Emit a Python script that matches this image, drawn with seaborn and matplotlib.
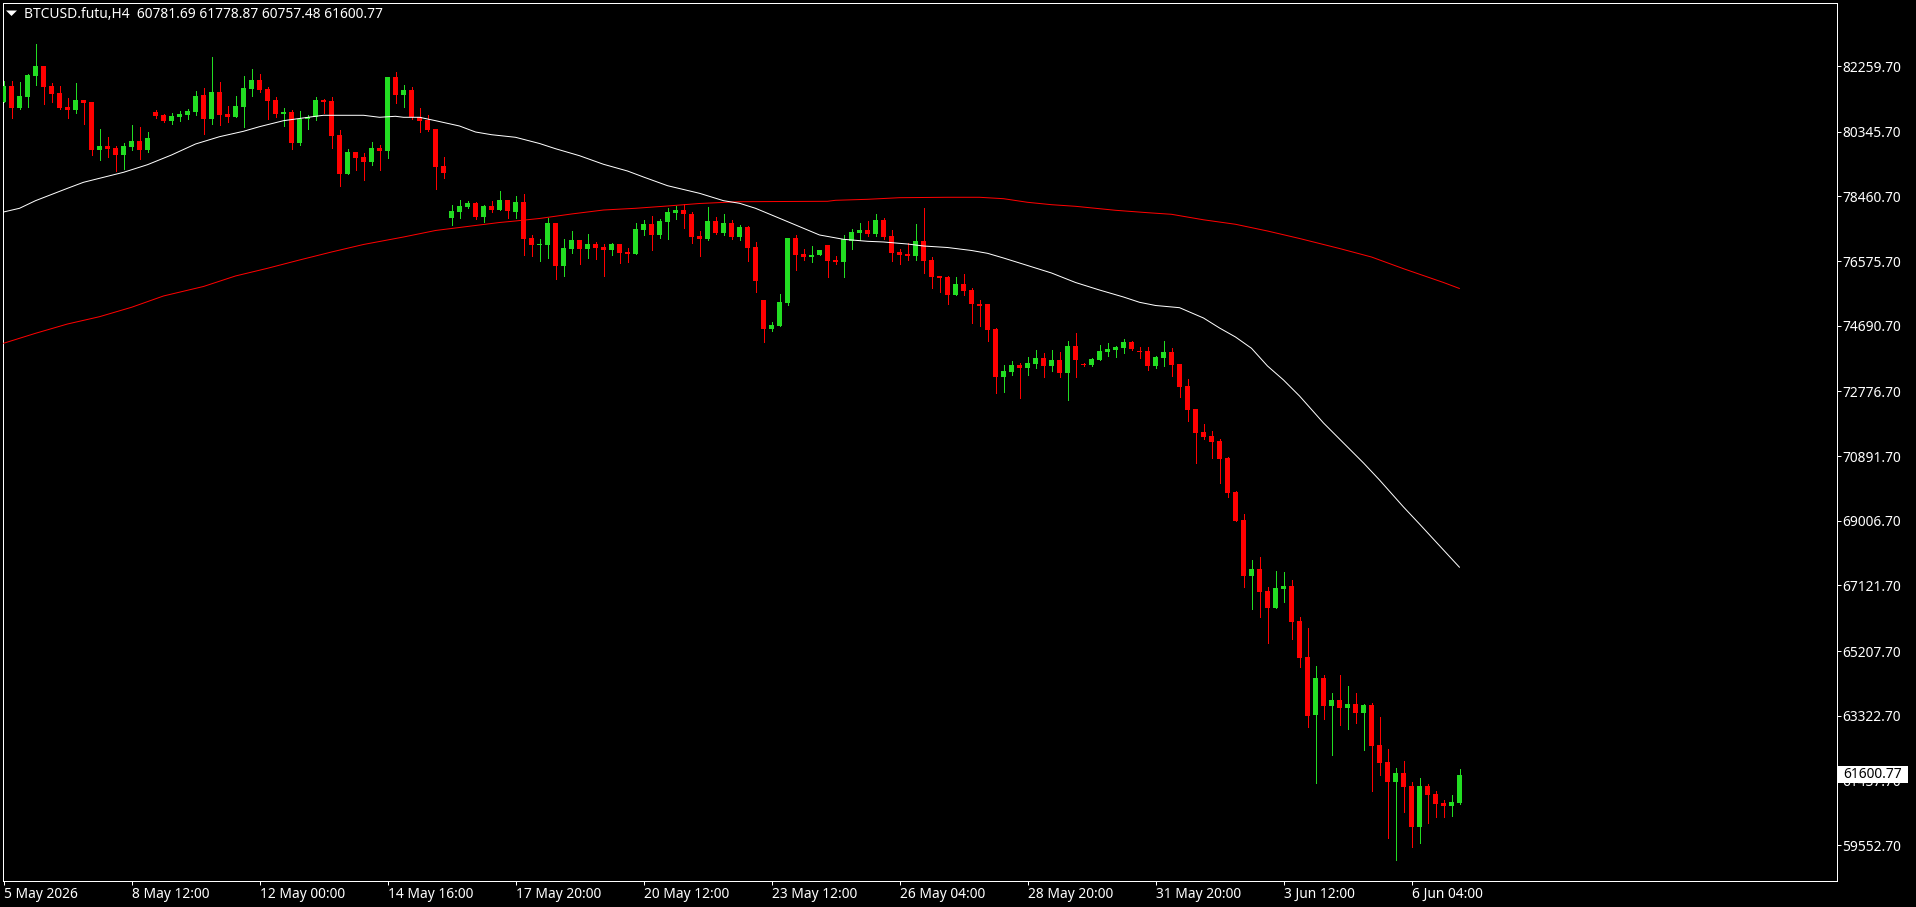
import matplotlib
matplotlib.use("Agg")
import matplotlib.pyplot as plt
from matplotlib.patches import Polygon, Rectangle
import numpy as np
import seaborn as sns

W, H = 1916, 907

# --------------------------------------------------
# CANDLES (H4)
# --------------------------------------------------

opens = [
    81221, 81678, 81037, 81357, 81970, 82261, 81678, 81474, 81066, 80978,
    81270, 81212, 79812, 79929, 79871, 79667, 79900, 80075, 79812, 80920,
    80833, 80658, 80774, 80833, 80920, 81416, 80716, 81503, 80862, 80774,
    81066, 81591, 81853, 81591, 81270, 80862, 80920, 80016, 80716, 80774,
    81270, 81241, 80250, 79113, 79754, 79608, 79462, 79871, 79783, 81940,
    81416, 81561, 80774, 80687, 80425, 79346, 77830, 78005, 78151, 78267,
    77860, 78181, 78064, 78355, 78006, 78297, 77248, 77044, 77044, 77685,
    76432, 76927, 77189, 76927, 77073, 76985, 76898, 77073, 76840, 76781,
    77481, 77656, 77335, 77714, 77977, 78064, 77947, 77306, 77219, 77743,
    77393, 77685, 77277, 77568, 76985, 75440, 74595, 74682, 75353, 77248,
    76781, 76694, 76752, 77044, 76606, 76548, 77160, 77393, 77481, 77364,
    77772, 77306, 76840, 76781, 76723, 77160, 76606, 76140, 76111, 75586,
    75906, 75732, 75324, 75324, 74595, 73196, 73342, 73546, 73458, 73575,
    73750, 73517, 73691, 73312, 74100, 73575, 73546, 73691, 73925, 73983,
    74041, 74216, 73954, 73954, 73517, 73750, 73925, 73575, 72933, 72263,
    71592, 71476, 71330, 70835, 69844, 69027, 67395, 67599, 66957, 66462,
    67016, 67103, 66083, 65033, 63343, 64421, 63605, 63780, 63547, 63663,
    63401, 63634, 62468, 61972, 61390, 61652, 61273, 60078, 61273, 61040,
    60777, 60690, 60781.69,
]
closes = [
    81678, 81046, 81387, 81999, 82261, 81649, 81445, 81037, 80978, 81270,
    81182, 79812, 79929, 79842, 79667, 79929, 80075, 79812, 80162, 80803,
    80658, 80803, 80862, 80949, 81387, 80716, 81503, 80833, 80774, 81095,
    81620, 81853, 81561, 81241, 80862, 80920, 80016, 80716, 80774, 81270,
    81212, 80220, 79113, 79754, 79579, 79462, 79871, 79783, 81940, 81416,
    81561, 80774, 80658, 80395, 79317, 79142, 78034, 78180, 78267, 77859,
    78181, 78064, 78355, 78035, 78297, 77219, 77044, 77073, 77685, 76432,
    76956, 77189, 76927, 77073, 76956, 76898, 77073, 76810, 76781, 77510,
    77656, 77335, 77743, 78006, 78064, 77947, 77277, 77219, 77743, 77393,
    77685, 77277, 77568, 76956, 75994, 74595, 74712, 75382, 77248, 76752,
    76694, 76752, 76898, 76577, 76548, 77219, 77423, 77481, 77364, 77772,
    77277, 76810, 76752, 76723, 77160, 76577, 76111, 76082, 75586, 75906,
    75703, 75324, 75266, 74566, 73196, 73371, 73546, 73458, 73604, 73750,
    73517, 73691, 73312, 74100, 73691, 73546, 73721, 73954, 74012, 74070,
    74216, 74012, 73934, 73517, 73779, 73925, 73546, 72904, 72234, 71563,
    71447, 71301, 70805, 69814, 68998, 67395, 67599, 66928, 66462, 67045,
    67103, 66054, 65004, 63313, 64421, 63605, 63780, 63547, 63663, 63401,
    63634, 62439, 61943, 61390, 61652, 61244, 60078, 61273, 61011, 60748,
    60690, 60807, 61600.77,
]
highs = [
    81824, 81824, 81795, 82028, 82902, 82261, 81765, 81678, 81328, 81765,
    81270, 81212, 80425, 80191, 79929, 80016, 80541, 80483, 80337, 80978,
    80862, 80891, 80949, 81008, 81532, 81620, 82523, 81795, 81095, 81387,
    81970, 82174, 82028, 81649, 81357, 81037, 80978, 80949, 80833, 81357,
    81299, 81357, 80395, 79842, 79754, 79725, 80046, 79958, 81940, 82086,
    81707, 81649, 81037, 80833, 80425, 79608, 78209, 78355, 78326, 78296,
    78210, 78326, 78618, 78355, 78472, 78530, 77335, 77219, 77831, 77685,
    77219, 77452, 77189, 77364, 77131, 77073, 77102, 77073, 76956, 77685,
    77772, 77889, 77802, 78122, 78181, 78239, 78006, 77452, 78151, 77860,
    77947, 77772, 77627, 77598, 77131, 75440, 74799, 75615, 77248, 77335,
    76927, 77015, 76898, 77044, 76723, 77335, 77510, 77685, 77743, 77947,
    77831, 77481, 76927, 77102, 77656, 78122, 76694, 76140, 76140, 76110,
    76198, 75790, 75440, 75324, 74624, 73546, 73662, 73604, 73779, 73983,
    73895, 73983, 73925, 74245, 74478, 73604, 73750, 74129, 74187, 74100,
    74304, 74245, 74070, 74070, 73808, 74245, 74041, 73575, 73138, 72263,
    71826, 71622, 71388, 70864, 69873, 69202, 67861, 67949, 67074, 67540,
    67511, 67278, 66199, 65879, 64771, 64509, 63984, 64509, 64188, 63984,
    63663, 63692, 63284, 62351, 61798, 62002, 61390, 61506, 61331, 61127,
    60865, 61011, 61778.87,
]
lows = [
    81221, 80755, 81008, 81076, 81707, 81163, 81221, 81008, 80755, 80901,
    80580, 79667, 79531, 79608, 79200, 79258, 79822, 79550, 79754, 80745,
    80629, 80570, 80667, 80716, 80833, 80279, 80570, 80541, 80629, 80774,
    80483, 81387, 81503, 80716, 80774, 80512, 79842, 79958, 80425, 80687,
    80891, 79871, 78763, 79113, 79229, 78938, 79375, 79229, 79579, 81182,
    81066, 80716, 80337, 80366, 78675, 78996, 77626, 77830, 78122, 77801,
    77714, 78006, 78064, 77831, 77831, 76752, 76723, 76577, 76665, 76053,
    76140, 76810, 76490, 76665, 76636, 76140, 76752, 76519, 76548, 76781,
    77335, 76898, 77248, 77219, 77802, 77539, 77102, 76723, 77189, 77364,
    77335, 77219, 77189, 76577, 75674, 74216, 74537, 74682, 75295, 76315,
    76606, 76548, 76752, 76111, 76490, 76111, 76927, 77189, 77306, 77306,
    77219, 76577, 76490, 76606, 76606, 76227, 75790, 75674, 75324, 75586,
    75586, 74770, 74683, 74245, 72729, 72759, 73254, 72584, 73254, 73458,
    73196, 73371, 73196, 72525, 73196, 73517, 73517, 73691, 73808, 73779,
    73895, 73983, 73750, 73400, 73458, 73517, 73225, 72613, 71913, 70689,
    71388, 70835, 70106, 69698, 68998, 67074, 66433, 66199, 65441, 66462,
    66637, 65558, 64742, 62993, 61360, 63226, 62177, 63051, 62934, 63109,
    62322, 61127, 61594, 59757, 59116, 60515, 59495, 59611, 60194, 60369,
    60369, 60398, 60757.48,
]

# --------------------------------------------------
# MOVING AVERAGES, SAMPLED ALONG THE BARS
# --------------------------------------------------

ma_fast_bars = [
    0, 2, 4, 8, 10, 15, 18, 21, 24, 27, 30, 32, 35, 39, 40, 45, 47, 49, 50, 52,
    54, 57, 59, 61, 64, 67, 69, 72, 75, 78, 80, 83, 87, 90, 92, 94, 97, 100,
    102, 105, 108, 110, 113, 115, 118, 121, 123, 125, 128, 131, 134, 137, 140,
    142, 144, 147, 150, 152, 154, 156, 158, 160, 162, 165, 167, 170, 172, 175,
    177, 180, 182,
]
ma_fast = [
    78005, 78113, 78335, 78696, 78871, 79162, 79384, 79667, 79987, 80200, 80358,
    80492, 80667, 80795, 80824, 80824, 80766, 80795, 80766, 80766, 80667, 80512,
    80337, 80258, 80183, 80002, 79850, 79646, 79396, 79200, 79025, 78772, 78550,
    78335, 78259, 78113, 77822, 77530, 77335, 77209, 77151, 77131, 77072, 77014,
    76970, 76883, 76801, 76664, 76446, 76227, 75950, 75731, 75527, 75373, 75280,
    75216, 74915, 74624, 74361, 74032, 73516, 73108, 72642, 71855, 71388, 70689,
    70193, 69406, 68910, 68152, 67648,
]
ma_slow_bars = [
    0, 4, 8, 12, 16, 20, 25, 29, 33, 37, 41, 45, 50, 54, 58, 62, 64, 67, 71, 75,
    79, 83, 87, 92, 103, 104, 108, 112, 118, 122, 125, 128, 131, 134, 139, 143,
    146, 150, 154, 158, 162, 167, 171, 175, 180, 182,
]
ma_slow = [
    74178, 74469, 74740, 74953, 75227, 75557, 75834, 76140, 76364, 76606, 76839,
    77058, 77276, 77466, 77583, 77699, 77743, 77816, 77947, 78063, 78113, 78180,
    78253, 78305, 78317, 78346, 78375, 78422, 78434, 78434, 78393, 78288, 78218,
    78171, 78055, 77985, 77938, 77778, 77647, 77451, 77233, 76941, 76693, 76352,
    75950, 75775,
]

# --------------------------------------------------
# AXIS LABELS
# --------------------------------------------------

price_ticks = [
    82259.70, 80345.70, 78460.70, 76575.70, 74690.70, 72776.70, 70891.70,
    69006.70, 67121.70, 65207.70, 63322.70, 61437.70, 59552.70,
]
time_tick_bars = [0, 16, 32, 48, 64, 80, 96, 112, 128, 144, 160, 176]
time_labels = [
    "5 May 2026", "8 May 12:00", "12 May 00:00", "14 May 16:00", "17 May 20:00",
    "20 May 12:00", "23 May 12:00", "26 May 04:00", "28 May 20:00",
    "31 May 20:00", "3 Jun 12:00", "6 Jun 04:00",
]
header = "BTCUSD.futu,H4  60781.69 61778.87 60757.48 61600.77"

GREEN = "#22DD22"
RED = "#FF0000"
FONT_SIZE = 9.95

sns.set_theme(style="dark", rc={
    "figure.facecolor": "black",
    "axes.facecolor": "black",
    "axes.edgecolor": "white",
    "xtick.color": "white",
    "ytick.color": "white",
    "text.color": "white",
})
plt.rcParams["font.family"] = ["Noto Sans", "DejaVu Sans"]

fig = plt.figure(figsize=(W / 100, H / 100), dpi=100)
ax = fig.add_axes([2.5 / W, (H - 880.5) / H, 1834 / W, 878 / H])

opens = np.array(opens)
closes = np.array(closes)
highs = np.array(highs)
lows = np.array(lows)
bars = np.arange(len(opens))
colors = np.where(closes >= opens, GREEN, RED)

# --------------------------------------------------
# CANDLES AND MOVING AVERAGES
# --------------------------------------------------

ax.vlines(bars, lows, highs, colors=colors, linewidth=0.72, antialiased=False, zorder=2)
ax.bar(bars, np.abs(closes - opens), bottom=np.minimum(opens, closes), width=0.625,
       color=colors, linewidth=0, antialiased=False, zorder=3)

sns.lineplot(x=ma_slow_bars, y=ma_slow, color=RED, linewidth=0.72, ax=ax, zorder=4)
sns.lineplot(x=ma_fast_bars, y=ma_fast, color="white", linewidth=0.72, ax=ax, zorder=4)

# bar i sits at pixel 3.5 + 8 * i
ax.set_xlim(-0.125, 229.125)
ax.set_ylim(58518, 84112)

ax.yaxis.tick_right()
ax.set_yticks(price_ticks)
ax.set_yticklabels([f"{p:.2f}" for p in price_ticks], fontsize=FONT_SIZE)
ax.set_xticks(time_tick_bars)
ax.set_xticklabels(time_labels, fontsize=FONT_SIZE, ha="left")
ax.tick_params(axis="both", length=2.6, width=0.72, pad=1.8, colors="white",
               bottom=True, right=True, left=False, top=False)
ax.grid(False)
for side in ax.spines.values():
    side.set_linewidth(0.72)
    side.set_color("white")
    side.set_antialiased(False)

# --------------------------------------------------
# HEADER AND LAST PRICE TAG
# --------------------------------------------------

fig.add_artist(Polygon([[6 / W, 1 - 10.5 / H], [17 / W, 1 - 10.5 / H], [11.5 / W, 1 - 16 / H]],
                       closed=True, facecolor="white", edgecolor="none",
                       transform=fig.transFigure))
fig.text(24 / W, 1 - 14 / H, header, fontsize=FONT_SIZE, color="white", va="center", ha="left")

tag_y = ax.transData.transform((0, closes[-1]))[1]
fig.add_artist(Rectangle((1838 / W, (tag_y - 8) / H), 70 / W, 17 / H, facecolor="white",
                         edgecolor="none", transform=fig.transFigure))
fig.add_artist(Rectangle((1836.5 / W, (tag_y - 0.5) / H), 2 / W, 1 / H, facecolor="white",
                         edgecolor="none", transform=fig.transFigure))
fig.text(1843 / W, tag_y / H, f"{closes[-1]:.2f}", fontsize=FONT_SIZE, color="black",
         va="center", ha="left")

fig.savefig("out.png", dpi=100, facecolor="black")
